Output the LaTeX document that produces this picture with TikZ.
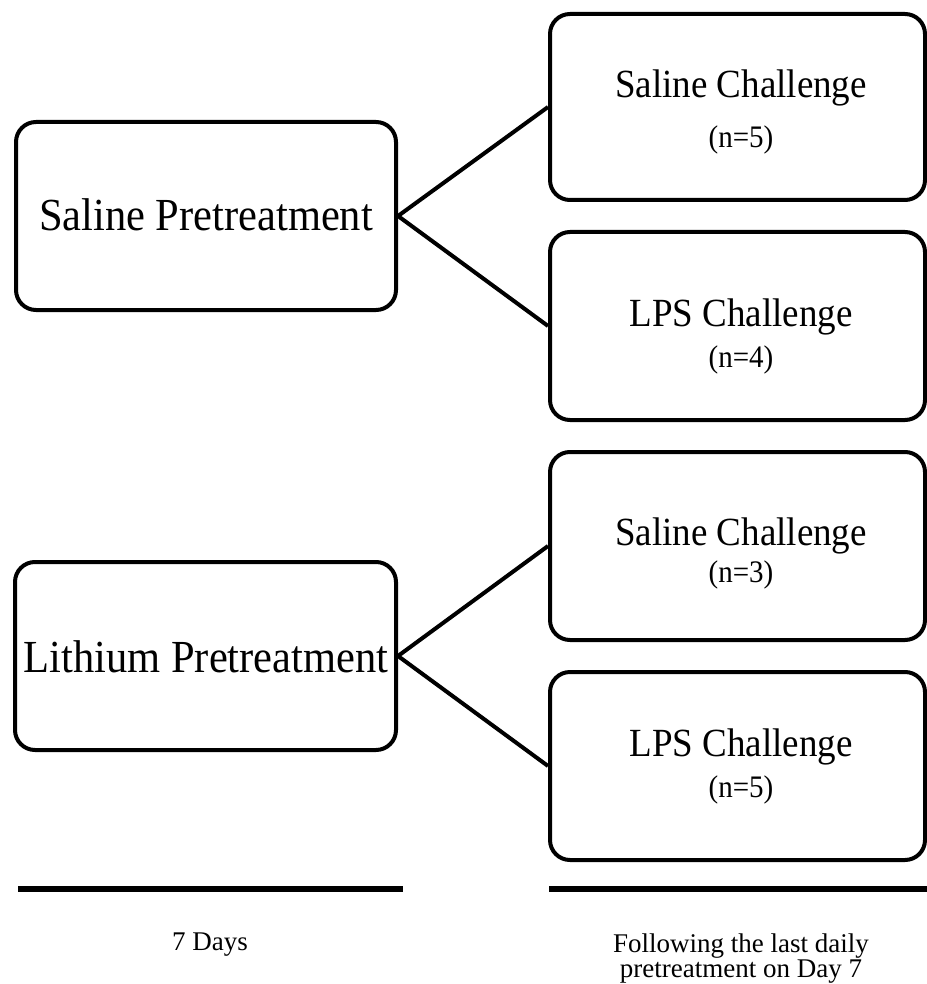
\documentclass[tikz,border=0pt]{standalone}
\usepackage{fontspec}
\setmainfont{Liberation Serif}
% slightly tall lettering for the box labels
\newcommand\tallish[1]{\scalebox{1}[1.08]{#1}}
\begin{document}
\begin{tikzpicture}[x=1pt,y=-1pt,
  group/.style={draw=black, line width=4pt, rounded corners=20pt, rectangle,
    inner sep=0pt, minimum height=188pt},
  link/.style={draw=black, line width=4pt},
  period/.style={draw=black, line width=5.5pt},
  pre/.style={inner sep=0pt, anchor=base, font=\fontsize{42.5}{46}\selectfont},
  chal/.style={inner sep=0pt, anchor=base, font=\fontsize{37}{40}\selectfont},
  count/.style={inner sep=0pt, anchor=base, font=\fontsize{29}{32}\selectfont},
  caption/.style={inner sep=0pt, anchor=base, align=center,
    font=\fontsize{27}{25}\selectfont}]
\useasboundingbox (0,0) rectangle (926,984);

% pretreatment groups
\node[group, minimum width=380pt] (salpre) at (206,216) {};
\node[group, minimum width=381pt] (lipre)  at (205.5,656) {};

% challenge groups
\node[group, minimum width=375pt, minimum height=186pt] (salch1) at (737.5,107) {};
\node[group, minimum width=375pt] (lpsch1) at (737.5,326) {};
\node[group, minimum width=375pt] (salch2) at (737.5,546) {};
\node[group, minimum width=375pt] (lpsch2) at (737.5,766) {};

% labels
\node[pre] (tsalpre) at (206,231) {\tallish{Saline Pretreatment}};
\node[pre] (tlipre)  at (206,672) {\tallish{Lithium Pretreatment}};

\node[chal]  (tsalch1) at (741,98)  {\tallish{Saline Challenge}};
\node[count] (nsalch1) at (741,148) {\tallish{(n=5)}};
\node[chal]  (tlpsch1) at (741,326) {\tallish{LPS Challenge}};
\node[count] (nlpsch1) at (741,367) {\tallish{(n=4)}};
\node[chal]  (tsalch2) at (741,545) {\tallish{Saline Challenge}};
\node[count] (nsalch2) at (741,582) {\tallish{(n=3)}};
\node[chal]  (tlpsch2) at (741,756) {\tallish{LPS Challenge}};
\node[count] (nlpsch2) at (741,797) {\tallish{(n=5)}};

% branches
\draw[link] (salpre.east) -- (salch1.west);
\draw[link] (salpre.east) -- (lpsch1.west);
\draw[link] (lipre.east) -- (salch2.west);
\draw[link] (lipre.east) -- (lpsch2.west);

% time periods
\coordinate (p1a) at (18,889);
\coordinate (p1b) at (403,889);
\coordinate (p2a) at (549,889);
\coordinate (p2b) at (930,889);
\draw[period] (p1a) -- (p1b);
\draw[period] (p2a) -- (p2b);
\node[caption] (cap1) at (210,950) {7 Days};
\node[caption] (cap2) at (741,977) {Following the last daily\\pretreatment on Day 7};
\end{tikzpicture}
\end{document}
